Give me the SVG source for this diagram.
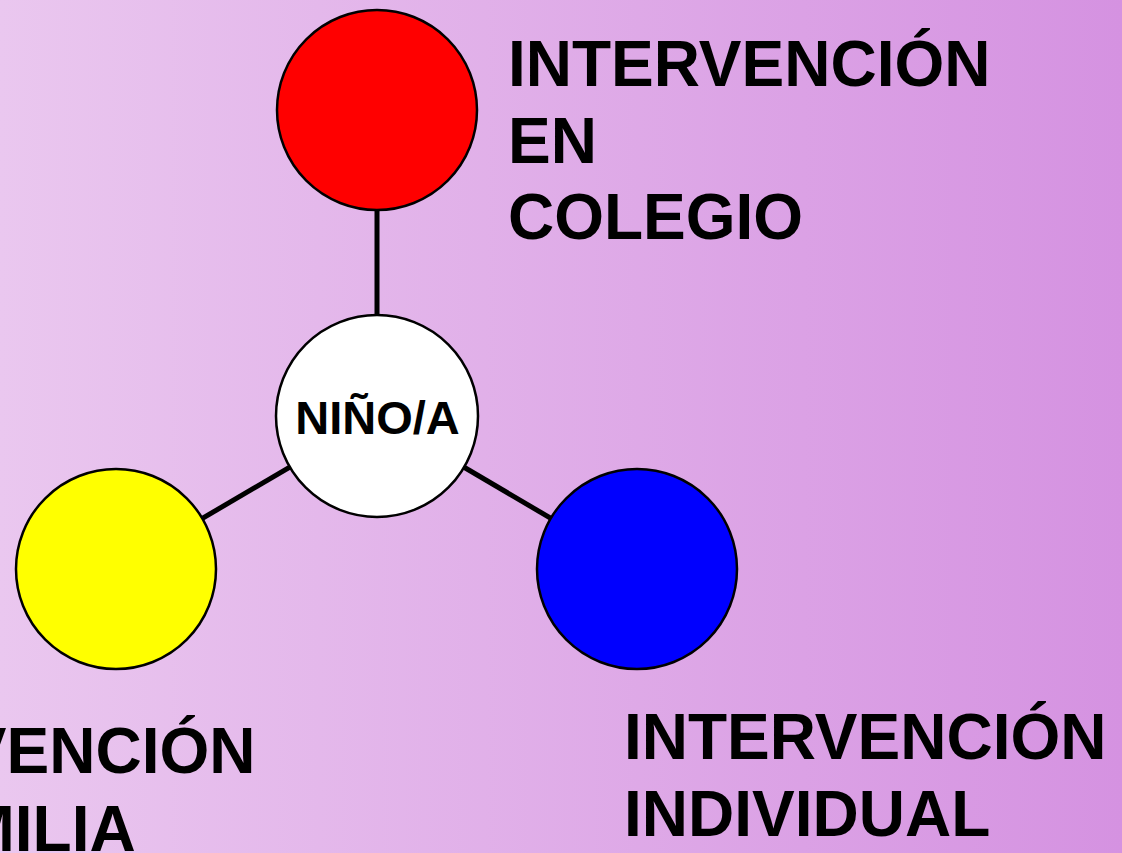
<svg xmlns="http://www.w3.org/2000/svg" width="1122" height="853" viewBox="0 0 1122 853">
<defs>
<linearGradient id="bg" x1="0" y1="0" x2="1" y2="0">
<stop offset="0" stop-color="#EAC7EF"/>
<stop offset="1" stop-color="#D592E1"/>
</linearGradient>
<style>
.lbl{font-family:"Liberation Sans",Arial,sans-serif;font-weight:bold;font-size:64px;fill:#000}
.node{stroke:#000;stroke-width:2.5}
.conn{stroke:#000;stroke-width:5}
</style>
</defs>
<rect x="0" y="0" width="1122" height="853" fill="url(#bg)"/>
<g id="connectors">
<line class="conn" x1="377" y1="416" x2="377" y2="110"/>
<line class="conn" x1="377" y1="416" x2="116" y2="569"/>
<line class="conn" x1="377" y1="416" x2="637" y2="569"/>
</g>
<g id="colegio">
<circle class="node" cx="377" cy="110" r="100" fill="#FF0000"/>
<text class="lbl" x="508" y="86">INTERVENCIÓN</text>
<text class="lbl" x="508" y="163">EN</text>
<text class="lbl" x="508" y="239">COLEGIO</text>
</g>
<g id="familia">
<circle class="node" cx="116" cy="569" r="100" fill="#FFFF00"/>
<text class="lbl" x="-227" y="773">INTERVENCIÓN</text>
<text class="lbl" x="-227" y="851">EN FAMILIA</text>
</g>
<g id="individual">
<circle class="node" cx="637" cy="569" r="100" fill="#0000FF"/>
<text class="lbl" x="624" y="759">INTERVENCIÓN</text>
<text class="lbl" x="624" y="836">INDIVIDUAL</text>
</g>
<g id="nino">
<circle class="node" cx="377" cy="416" r="101" fill="#FFFFFF"/>
<text x="377.5" y="434" text-anchor="middle" style="font-family:'Liberation Sans',Arial,sans-serif;font-weight:bold;font-size:47px">NIÑO/A</text>
</g>
</svg>
